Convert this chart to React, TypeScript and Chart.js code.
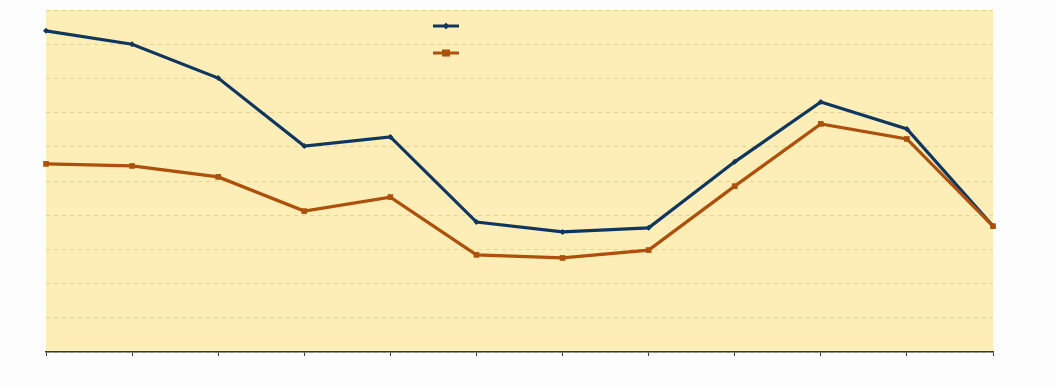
import React, { useEffect, useRef } from "react";
import { Chart, registerables } from "chart.js";

Chart.register(...registerables);

const categories = ["1", "2", "3", "4", "5", "6", "7", "8", "9", "10", "11", "12"];
const seriesA = [9.39, 9.0, 8.01, 6.02, 6.29, 3.8, 3.51, 3.63, 5.56, 7.31, 6.52, 3.68];
const seriesB = [5.5, 5.44, 5.12, 4.12, 4.53, 2.84, 2.75, 2.98, 4.85, 6.67, 6.23, 3.68];
const yMin = 0;
const yMax = 10;

const BLUE = "#0f365f";
const ORANGE = "#ad500c";
const BG = "#fdedb7";

const areaBg = {
  id: "areaBg",
  beforeDraw(chart: any) {
    const { ctx, chartArea } = chart;
    ctx.save();
    ctx.fillStyle = BG;
    ctx.fillRect(chartArea.left, chartArea.top, chartArea.right - chartArea.left, chartArea.bottom - chartArea.top);
    ctx.restore();
  },
};

const customLegend = {
  id: "customLegend",
  afterDatasetsDraw(chart: any) {
    const { ctx, chartArea } = chart;
    const x0 = chartArea.left + 387;
    const w = 26;
    const rows = [
      { y: chartArea.top + 16, color: BLUE, style: "diamond" },
      { y: chartArea.top + 43, color: ORANGE, style: "rect" },
    ];
    ctx.save();
    rows.forEach((r) => {
      ctx.strokeStyle = r.color;
      ctx.lineWidth = 3;
      ctx.beginPath();
      ctx.moveTo(x0, r.y);
      ctx.lineTo(x0 + w, r.y);
      ctx.stroke();
      ctx.fillStyle = r.color;
      const cx = x0 + w / 2;
      if (r.style === "diamond") {
        ctx.beginPath();
        ctx.moveTo(cx, r.y - 3.5);
        ctx.lineTo(cx + 3, r.y);
        ctx.lineTo(cx, r.y + 3.5);
        ctx.lineTo(cx - 3, r.y);
        ctx.closePath();
        ctx.fill();
      } else {
        ctx.fillRect(cx - 4, r.y - 3.5, 8, 7);
      }
    });
    ctx.restore();
  },
};

export default function App() {
  const ref = useRef<HTMLCanvasElement | null>(null);
  useEffect(() => {
    document.body.style.margin = "0";
    document.body.style.background = "#fdfdfd";
    const chart = new Chart(ref.current as HTMLCanvasElement, {
      type: "line",
      data: {
        labels: categories,
        datasets: [
          {
            label: "",
            data: seriesA,
            order: 1,
            borderColor: BLUE,
            backgroundColor: BLUE,
            borderWidth: 3.2,
            pointStyle: "rectRot",
            pointRadius: 3,
            pointBorderWidth: 0,
            tension: 0,
          },
          {
            label: "",
            data: seriesB,
            order: 0,
            borderColor: ORANGE,
            backgroundColor: ORANGE,
            borderWidth: 3.2,
            pointStyle: "rect",
            pointRadius: 4,
            pointBorderWidth: 0,
            tension: 0,
          },
        ],
      },
      options: {
        animation: false,
        responsive: false,
        maintainAspectRatio: false,
        layout: { padding: { left: 46, right: 64, top: 10, bottom: 35 } },
        plugins: { legend: { display: false }, tooltip: { enabled: false } },
        scales: {
          x: {
            offset: false,
            ticks: { display: false },
            grid: { drawOnChartArea: false, drawTicks: true, tickLength: 4, color: "#3a3a3a", lineWidth: 1 },
            border: { display: true, color: "#3a3a3a", width: 1.5 },
            afterFit(scale: any) {
              scale.height = 0;
            },
          },
          y: {
            min: yMin,
            max: yMax,
            ticks: { display: false, stepSize: 1 },
            grid: { drawTicks: false, color: "rgba(214,190,120,0.55)", lineWidth: 1 },
            border: { display: false, dash: [4, 4] },
            afterFit(scale: any) {
              scale.width = 0;
            },
          },
        },
      },
      plugins: [areaBg, customLegend],
    });
    return () => chart.destroy();
  }, []);
  return (
    <div style={{ width: 1057, height: 387, position: "absolute", left: 0, top: 0 }}>
      <canvas ref={ref} width={1057} height={387} />
    </div>
  );
}
